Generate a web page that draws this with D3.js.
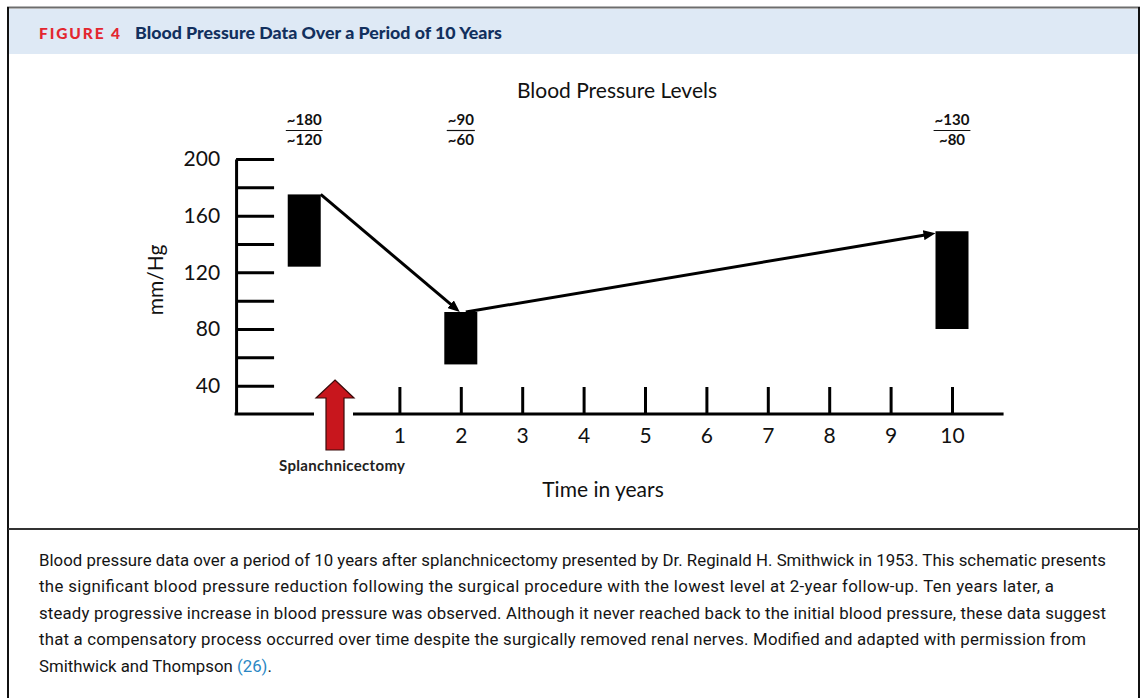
<!DOCTYPE html>
<html>
<head>
<meta charset="utf-8">
<script src="https://cdn.jsdelivr.net/npm/d3@7"></script>
<style>
  body { margin: 0; background: #fff; }
  svg { display: block; }
</style>
</head>
<body>
<div id="root"></div>
<script>
const WIDTH = 1142
const HEIGHT = 698

const BAR_WIDTH = 33
const CHART_FONT = 'Lato, "Open Sans", sans-serif'
const CAPTION_FONT = 'Roboto, "Noto Sans", sans-serif'

// data
const years = [1, 2, 3, 4, 5, 6, 7, 8, 9, 10]
const pressureTicks = [40, 60, 80, 100, 120, 140, 160, 180, 200]
const pressureLabels = [40, 80, 120, 160, 200]

const visitYears = [-0.55, 2, 10]
const systolic = [175, 92, 149]
const diastolic = [124, 55, 80]
const systolicText = ['~180', '~90', '~130']
const diastolicText = ['~120', '~60', '~80']

const SURGERY_YEAR = 0
const AXIS_FROM = -1.66
const AXIS_TO = 10.84

const captionLines = [
  'Blood pressure data over a period of 10 years after splanchnicectomy presented by Dr. Reginald H. Smithwick in 1953. This schematic presents',
  'the significant blood pressure reduction following the surgical procedure with the lowest level at 2-year follow-up. Ten years later, a',
  'steady progressive increase in blood pressure was observed. Although it never reached back to the initial blood pressure, these data suggest',
  'that a compensatory process occurred over time despite the surgically removed renal nerves. Modified and adapted with permission from'
]
const captionWidths = [1067, 1015, 1067, 1047]

const visits = visitYears.map((year, i) => ({
  year,
  sys: systolic[i],
  dia: diastolic[i],
  sysText: systolicText[i],
  diaText: diastolicText[i]
}))

const xScale = d3.scaleLinear()
  .domain([0, 10])
  .range([338, 952])

const yScale = d3.scaleLinear()
  .domain([20, 200])
  .range([414, 159])

const svg = d3.select('#root')
  .append('svg')
  .attr('width', WIDTH)
  .attr('height', HEIGHT)

// frame + header band
svg.append('rect')
  .attr('x', 9).attr('y', 9)
  .attr('width', 1129).attr('height', 45)
  .style('fill', '#dee9f5')

svg.append('line')
  .attr('x1', 7).attr('x2', 1140).attr('y1', 7.5).attr('y2', 7.5)
  .style('stroke', '#6d6d6d').style('stroke-width', 2)

svg.append('line')
  .attr('x1', 8).attr('x2', 8).attr('y1', 7).attr('y2', HEIGHT)
  .style('stroke', '#111').style('stroke-width', 2)

svg.append('line')
  .attr('x1', 1139).attr('x2', 1139).attr('y1', 7).attr('y2', HEIGHT)
  .style('stroke', '#111').style('stroke-width', 2)

svg.append('line')
  .attr('x1', 8).attr('x2', 1139).attr('y1', 529).attr('y2', 529)
  .style('stroke', '#333').style('stroke-width', 2)

svg.append('text')
  .attr('x', 39).attr('y', 39)
  .attr('textLength', 81)
  .attr('lengthAdjust', 'spacing')
  .style('font-family', CHART_FONT)
  .style('font-weight', 900)
  .style('font-size', '15.5px')
  .style('fill', '#e3262f')
  .text('FIGURE 4')

svg.append('text')
  .attr('x', 135).attr('y', 39)
  .attr('textLength', 367)
  .attr('lengthAdjust', 'spacingAndGlyphs')
  .style('font-family', CHART_FONT)
  .style('font-weight', 900)
  .style('font-size', '16.5px')
  .style('fill', '#12305e')
  .text('Blood Pressure Data Over a Period of 10 Years')

// chart title
svg.append('text')
  .attr('x', 617).attr('y', 98)
  .attr('text-anchor', 'middle')
  .style('font-family', CHART_FONT)
  .style('font-size', '21px')
  .style('fill', '#111')
  .text('Blood Pressure Levels')

// y axis: ticks point inward, labels every 40
const yAxis = d3.axisLeft(yScale)
  .tickValues(pressureTicks)
  .tickSize(-38)
  .tickSizeOuter(0)
  .tickPadding(16)
  .tickFormat(d => pressureLabels.includes(d) ? d : '')

const yAxisG = svg.append('g')
  .attr('id', 'y-axis')
  .attr('transform', `translate(${xScale(AXIS_FROM)}, 0)`)
  .call(yAxis)

yAxisG.selectAll('path, line')
  .style('stroke', '#000')
  .style('stroke-width', 3)

yAxisG.selectAll('text')
  .style('font-family', CHART_FONT)
  .style('font-size', '21px')
  .style('fill', '#111')

svg.append('text')
  .attr('transform', 'translate(163, 280) rotate(-90)')
  .attr('text-anchor', 'middle')
  .style('font-family', CHART_FONT)
  .style('font-size', '21px')
  .style('fill', '#111')
  .text('mm/Hg')

// x axis: ticks point up, baseline broken by the surgery arrow
const xAxis = d3.axisBottom(xScale)
  .tickValues(years)
  .tickSize(-27)
  .tickSizeOuter(0)
  .tickPadding(14)

const xAxisG = svg.append('g')
  .attr('id', 'x-axis')
  .attr('transform', `translate(0, ${yScale(20)})`)
  .call(xAxis)

xAxisG.select('.domain').remove()

xAxisG.selectAll('line')
  .style('stroke', '#000')
  .style('stroke-width', 3)

xAxisG.selectAll('text')
  .style('font-family', CHART_FONT)
  .style('font-size', '21px')
  .style('fill', '#111')

const arrowX = xScale(SURGERY_YEAR) - 3
const baseY = yScale(20)

svg.append('g')
  .selectAll('line')
  .data([[AXIS_FROM, null], [null, AXIS_TO]])
  .join('line')
  .attr('x1', d => d[0] === null ? arrowX + 18 : xScale(d[0]) - 1.5)
  .attr('x2', d => d[1] === null ? arrowX - 21 : xScale(d[1]))
  .attr('y1', baseY)
  .attr('y2', baseY)
  .style('stroke', '#000')
  .style('stroke-width', 3)

svg.append('text')
  .attr('x', 603).attr('y', 497)
  .attr('text-anchor', 'middle')
  .style('font-family', CHART_FONT)
  .style('font-size', '21px')
  .style('fill', '#111')
  .text('Time in years')

// surgery marker
const blockArrow = [
  [0, -34], [19, -16], [9, -16], [9, 36], [-9, 36], [-9, -16], [-19, -16]
]

svg.append('path')
  .attr('d', d3.line()(blockArrow.map(p => [arrowX + p[0], baseY + p[1]])) + 'Z')
  .style('fill', '#c8161d')
  .style('stroke', '#3a0a0a')
  .style('stroke-width', 1.2)

svg.append('text')
  .attr('x', arrowX + 7).attr('y', 471)
  .attr('text-anchor', 'middle')
  .attr('textLength', 126)
  .attr('lengthAdjust', 'spacing')
  .style('font-family', CHART_FONT)
  .style('font-weight', 700)
  .style('font-size', '15px')
  .style('fill', '#222')
  .text('Splanchnicectomy')

// blood pressure ranges
svg.append('g')
  .selectAll('rect')
  .data(visits)
  .join('rect')
  .attr('x', d => xScale(d.year) - BAR_WIDTH / 2)
  .attr('y', d => yScale(d.sys))
  .attr('width', BAR_WIDTH)
  .attr('height', d => yScale(d.dia) - yScale(d.sys))
  .style('fill', '#000')

// trend arrows
svg.append('defs')
  .append('marker')
  .attr('id', 'head')
  .attr('markerUnits', 'userSpaceOnUse')
  .attr('markerWidth', 12)
  .attr('markerHeight', 10)
  .attr('refX', 3)
  .attr('refY', 5)
  .attr('orient', 'auto')
  .append('path')
  .attr('d', 'M0,0 L12,5 L0,10 Z')
  .style('fill', '#000')

const trends = [
  {
    from: [xScale(visits[0].year) + BAR_WIDTH / 2, yScale(visits[0].sys)],
    to: [xScale(visits[1].year) - 1, yScale(visits[1].sys)]
  },
  {
    from: [xScale(visits[1].year) + 5, yScale(visits[1].sys)],
    to: [xScale(visits[2].year) - BAR_WIDTH / 2, yScale(visits[2].sys) + 2]
  }
]

svg.append('g')
  .selectAll('line')
  .data(trends)
  .join('line')
  .attr('x1', d => d.from[0])
  .attr('y1', d => d.from[1])
  .attr('x2', d => {
    const dx = d.to[0] - d.from[0], dy = d.to[1] - d.from[1]
    return d.to[0] - 9 * dx / Math.hypot(dx, dy)
  })
  .attr('y2', d => {
    const dx = d.to[0] - d.from[0], dy = d.to[1] - d.from[1]
    return d.to[1] - 9 * dy / Math.hypot(dx, dy)
  })
  .attr('marker-end', 'url(#head)')
  .style('stroke', '#000')
  .style('stroke-width', 3)

// systolic / diastolic fractions
const fractions = svg.append('g')
  .selectAll('g')
  .data(visits)
  .join('g')
  .attr('transform', d => `translate(${xScale(d.year)}, 0)`)
  .style('font-family', CHART_FONT)
  .style('font-weight', 700)
  .style('font-size', '15px')
  .style('fill', '#111')
  .attr('text-anchor', 'middle')

fractions.append('text')
  .attr('class', 'sys')
  .attr('y', 125)
  .text(d => d.sysText)

fractions.append('text')
  .attr('y', 144.5)
  .text(d => d.diaText)

fractions.each(function () {
  const g = d3.select(this)
  const w = g.select('.sys').node().getComputedTextLength()
  g.append('line')
    .attr('x1', -w / 2 - 1).attr('x2', w / 2 + 1)
    .attr('y1', 130.5).attr('y2', 130.5)
    .style('stroke', '#111')
    .style('stroke-width', 1.2)
})

// caption
svg.append('g')
  .selectAll('text')
  .data(captionLines)
  .join('text')
  .attr('x', 39)
  .attr('y', (_, i) => 565.7 + i * 26.5)
  .attr('textLength', (_, i) => captionWidths[i])
  .attr('lengthAdjust', 'spacing')
  .style('font-family', CAPTION_FONT)
  .style('font-size', '16.8px')
  .style('fill', '#141414')
  .text(d => d)

const lastLine = svg.append('text')
  .attr('x', 39)
  .attr('y', 565.7 + 4 * 26.5)
  .style('font-family', CAPTION_FONT)
  .style('font-size', '16.8px')
  .style('fill', '#141414')

lastLine.append('tspan').text('Smithwick and Thompson ')
lastLine.append('tspan').style('fill', '#2b87c4').text('(26)')
lastLine.append('tspan').text('.')
</script>
</body>
</html>
